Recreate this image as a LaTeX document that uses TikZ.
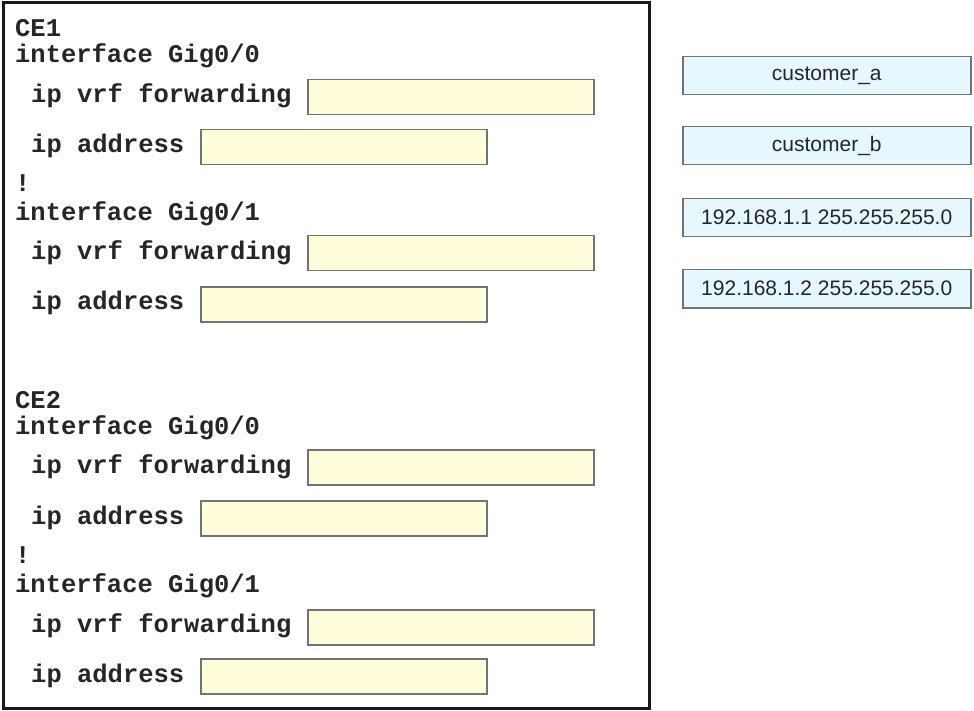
\documentclass[tikz,border=0pt]{standalone}
\usepackage{fontspec}
\setmainfont{Liberation Sans}
\setmonofont{Liberation Mono}

\begin{document}
\begin{tikzpicture}[x=1pt,y=-1pt,
cfg/.style={anchor=west,inner sep=0pt,text=black!85,font=\ttfamily\bfseries\fontsize{25.5}{30}\selectfont},
blank/.style={draw=black!55,line width=1.5pt,fill=yellow!14,anchor=north west,minimum width=286pt,minimum height=35pt,inner sep=0pt},
choice/.style={draw=black!55,line width=1.5pt,fill=cyan!10,anchor=north west,minimum width=288pt,minimum height=38pt,inner sep=0pt,text=black!85,font=\fontsize{21}{24}\selectfont}]
\useasboundingbox (0,0) rectangle (974,711);
\draw[line width=3pt,black!90] (3,3) rectangle (649,708);
% CE1
\node[cfg] (ceone) at (15,28) {CE1};
\node[cfg] (ifa) at (15,56) {interface Gig0/0};
\node[cfg] (vrfa) at (31,96) {ip vrf forwarding};
\node[cfg] (addra) at (31,146) {ip address};
\node[cfg] (banga) at (15,183) {!};
\node[cfg] (ifb) at (15,214) {interface Gig0/1};
\node[cfg] (vrfb) at (31,253) {ip vrf forwarding};
\node[cfg] (addrb) at (31,303) {ip address};
\node[blank] (bvrfa) at (307,79) {};
\node[blank] (baddra) at (200,129) {};
\node[blank] (bvrfb) at (307,235) {};
\node[blank] (baddrb) at (200,286) {};
% CE2
\node[cfg] (cetwo) at (15,400) {CE2};
\node[cfg] (ifc) at (15,428) {interface Gig0/0};
\node[cfg] (vrfc) at (31,467) {ip vrf forwarding};
\node[cfg] (addrc) at (31,518) {ip address};
\node[cfg] (bangb) at (15,555) {!};
\node[cfg] (ifd) at (15,586) {interface Gig0/1};
\node[cfg] (vrfd) at (31,626) {ip vrf forwarding};
\node[cfg] (addrd) at (31,676) {ip address};
\node[blank] (bvrfc) at (307,449) {};
\node[blank] (baddrc) at (200,500) {};
\node[blank] (bvrfd) at (307,609) {};
\node[blank] (baddrd) at (200,658) {};
% answers
\node[choice] (custa) at (682,56) {customer\_a};
\node[choice] (custb) at (682,126) {customer\_b};
\node[choice] (ipone) at (682,198) {192.168.1.1 255.255.255.0};
\node[choice] (iptwo) at (682,269) {192.168.1.2 255.255.255.0};
\end{tikzpicture}
\end{document}
